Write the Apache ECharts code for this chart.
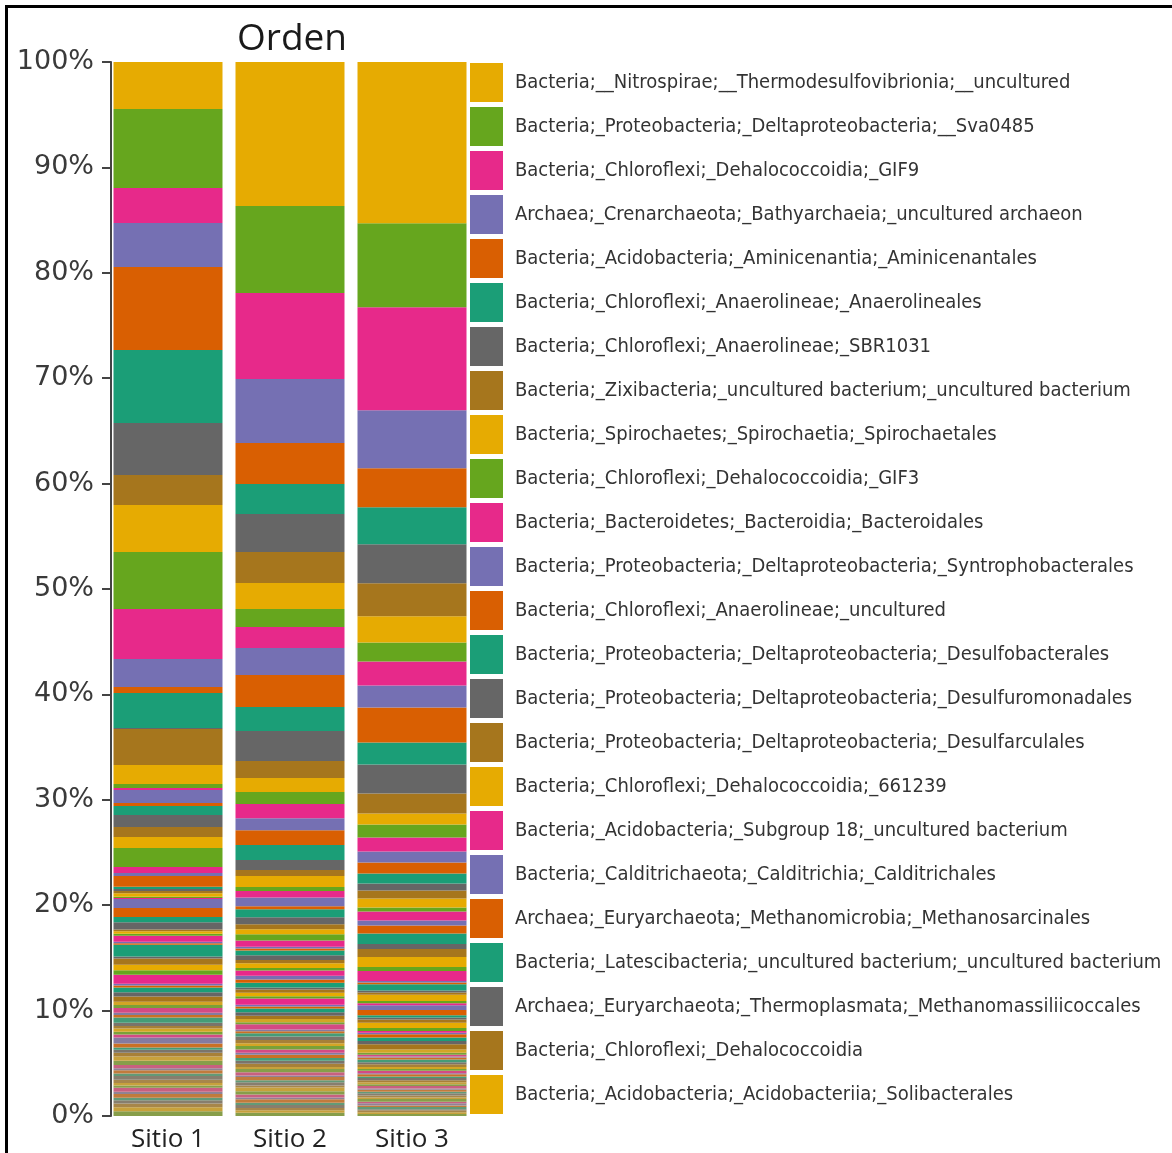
<!DOCTYPE html>
<html>
<head>
<meta charset="utf-8">
<title>Orden</title>
<script src="https://cdn.jsdelivr.net/npm/echarts@6/dist/echarts.min.js"></script>
<style>
  html, body { margin: 0; padding: 0; background: #fff; }
  #chart { width: 1172px; height: 1153px; }
</style>
</head>
<body>
<div id="chart"></div>
<script>
// sitios (eje x)
var sitios = ['Sitio 1', 'Sitio 2', 'Sitio 3'];

// ordenes que salen en la leyenda, de arriba a abajo
var leyenda = [
    'Bacteria;__Nitrospirae;__Thermodesulfovibrionia;__uncultured',
    'Bacteria;_Proteobacteria;_Deltaproteobacteria;__Sva0485',
    'Bacteria;_Chloroflexi;_Dehalococcoidia;_GIF9',
    'Archaea;_Crenarchaeota;_Bathyarchaeia;_uncultured archaeon',
    'Bacteria;_Acidobacteria;_Aminicenantia;_Aminicenantales',
    'Bacteria;_Chloroflexi;_Anaerolineae;_Anaerolineales',
    'Bacteria;_Chloroflexi;_Anaerolineae;_SBR1031',
    'Bacteria;_Zixibacteria;_uncultured bacterium;_uncultured bacterium',
    'Bacteria;_Spirochaetes;_Spirochaetia;_Spirochaetales',
    'Bacteria;_Chloroflexi;_Dehalococcoidia;_GIF3',
    'Bacteria;_Bacteroidetes;_Bacteroidia;_Bacteroidales',
    'Bacteria;_Proteobacteria;_Deltaproteobacteria;_Syntrophobacterales',
    'Bacteria;_Chloroflexi;_Anaerolineae;_uncultured',
    'Bacteria;_Proteobacteria;_Deltaproteobacteria;_Desulfobacterales',
    'Bacteria;_Proteobacteria;_Deltaproteobacteria;_Desulfuromonadales',
    'Bacteria;_Proteobacteria;_Deltaproteobacteria;_Desulfarculales',
    'Bacteria;_Chloroflexi;_Dehalococcoidia;_661239',
    'Bacteria;_Acidobacteria;_Subgroup 18;_uncultured bacterium',
    'Bacteria;_Calditrichaeota;_Calditrichia;_Calditrichales',
    'Archaea;_Euryarchaeota;_Methanomicrobia;_Methanosarcinales',
    'Bacteria;_Latescibacteria;_uncultured bacterium;_uncultured bacterium',
    'Archaea;_Euryarchaeota;_Thermoplasmata;_Methanomassiliicoccales',
    'Bacteria;_Chloroflexi;_Dehalococcoidia',
    'Bacteria;_Acidobacteria;_Acidobacteriia;_Solibacterales'
];

// abundancia relativa (%) por orden, de arriba (0) hacia abajo
var sitio1 = [
    4.46, 7.50, 3.32, 4.17, 7.87, 6.93, 4.93, 2.85, 4.46, 5.41,
    4.74, 2.66, 0.57, 3.32, 0.10, 3.42, 1.80, 0.38, 0.19, 1.23,
    0.28, 0.85, 1.14, 0.95, 1.04, 1.80, 0.57, 0.28, 1.04,
    0.2, 0.2, 0.2, 0.35, 0.1, 0.1, 0.85, 0.85, 0.5, 0.7,
    0.15, 0.25, 0.2, 0.55, 0.15, 0.15, 1.1, 0.2, 0.6, 0.5,
    0.45, 0.85, 0.15, 0.2, 0.45, 0.4, 0.5, 0.3,
    0.3, 0.45, 0.2, 0.25, 0.5, 0.3, 0.25, 0.3, 0.25, 0.3,
    0.55, 0.4, 0.2, 0.3, 0.35, 0.4, 0.4, 0.3, 0.2, 0.3,
    0.25, 0.35, 0.3, 0.25, 0.2, 0.4, 0.2, 0.35, 0.25, 0.3,
    0.35, 0.4, 0.44
];
var sitio2 = [
    13.66, 8.25, 8.16, 6.07, 3.89, 2.85, 3.61, 2.94, 2.47, 1.71,
    1.99, 2.56, 3.04, 2.28, 2.85, 1.61, 1.33, 1.14, 1.33, 1.14,
    1.42, 1.42, 0.95, 0.57, 1.04,
    0.38, 0.6, 0.85, 0.28, 0.76, 0.66, 0.47, 0.47, 0.6, 0.6,
    0.15, 0.2, 0.45, 0.45, 0.3, 0.45, 0.25, 0.5, 0.35, 0.3,
    0.45, 0.2, 0.3, 0.35, 0.2, 0.6, 0.15, 0.2, 0.35, 0.35,
    0.3, 0.3, 0.2, 0.5, 0.15, 0.2, 0.3, 0.35, 0.3, 0.25,
    0.35, 0.3, 0.2, 0.3, 0.25, 0.3, 0.3, 0.2, 0.3, 0.3,
    0.15, 0.3, 0.2, 0.3, 0.2, 0.35, 0.3, 0.3, 0.15, 0.35,
    0.2, 0.3, 0.2, 0.25, 0.3
];
var sitio3 = [
    15.28, 7.97, 9.77, 5.50, 3.70, 3.51, 3.70, 3.13, 2.47, 1.80,
    2.28, 2.09, 3.32, 2.09, 2.75, 1.90, 1.04, 1.23, 1.33, 1.04, 1.04,
    0.95, 0.66, 0.76, 0.85, 0.38, 0.85, 0.47, 0.76, 1.0, 0.47,
    0.76, 0.95, 0.38, 0.95, 0.15, 0.15, 0.6, 0.2, 0.2, 0.6,
    0.2, 0.2, 0.45, 0.5, 0.2, 0.2, 0.3, 0.5, 0.3, 0.15,
    0.15, 0.3, 0.35, 0.3, 0.5, 0.3,
    0.2, 0.15, 0.1, 0.2, 0.25, 0.2, 0.25, 0.2, 0.15, 0.25,
    0.1, 0.2, 0.15, 0.2, 0.2, 0.2, 0.15, 0.25, 0.1, 0.2,
    0.15, 0.2, 0.2, 0.15, 0.25, 0.15, 0.2, 0.15, 0.2, 0.1,
    0.2, 0.15, 0.2
];

// paleta Dark2, recorrida desde arriba
var colores = ['#e6ab02', '#66a61e', '#e7298a', '#7570b3', '#d95f02', '#1b9e77', '#666666', '#a6761d'];

window.onload = function () {
    initStack();
};

/* mezcla un color con un tono neutro (para los ordenes raros del fondo) */
var apagar = function (hex, f) {
    var base = [168, 150, 118];
    var out = '#';
    for (var c = 0; c < 3; c++) {
        var v = parseInt(hex.substr(1 + c * 2, 2), 16);
        v = Math.round(v * (1 - f) + base[c] * f);
        out += ('0' + v.toString(16)).slice(-2);
    }
    return out;
};

var initStack = function () {
    var dom = document.getElementById('chart');
    var myeCharts = echarts.init(dom);

    /* nombres: el orden 17 (verde) no aparece en la leyenda */
    var nombres = [];
    var j = 0;
    for (var k = 0; k < sitio1.length; k++) {
        if (k === 17) {
            nombres.push('Sin asignar');
        } else if (j < leyenda.length) {
            nombres.push(leyenda[j]);
            j++;
        } else {
            nombres.push('Otros ' + k);
        }
    }

    var tot = [0, 0, 0];
    sitio1.forEach(function (v, i) {
        tot[0] += v;
        tot[1] += sitio2[i];
        tot[2] += sitio3[i];
    });

    /* se apilan desde abajo: primero el ultimo orden */
    var series = [];
    for (var i = sitio1.length - 1; i >= 0; i--) {
        var col = colores[i % 8];
        if (i >= 72) {
            col = apagar(col, 0.5);
        } else if (i >= 56) {
            col = apagar(col, 0.3);
        }
        series.push({
            name: nombres[i],
            type: 'bar',
            stack: 'total',
            barWidth: 109,
            itemStyle: { color: col },
            data: [
                sitio1[i] / tot[0] * 100,
                sitio2[i] / tot[1] * 100,
                sitio3[i] / tot[2] * 100
            ]
        });
    }

    var option = {
        animation: false,
        backgroundColor: '#fff',
        title: {
            text: 'Orden',
            left: 287,
            textAlign: 'center',
            top: 16,
            textStyle: { fontFamily: 'Open Sans', fontWeight: 'normal', fontSize: 37, color: '#1a1a1a' }
        },
        legend: {
            orient: 'vertical',
            left: 470,
            top: 63,
            padding: 0,
            icon: 'rect',
            itemWidth: 33,
            itemHeight: 39,
            itemGap: 5,
            selectedMode: false,
            data: leyenda,
            textStyle: {
                fontFamily: 'DejaVu Sans Condensed',
                fontSize: 20,
                color: '#333',
                padding: [9, 0, 0, 7]
            }
        },
        grid: {
            left: 107,
            top: 62,
            width: 366,
            bottom: 37
        },
        xAxis: {
            type: 'category',
            data: sitios,
            axisLine: { show: false },
            axisTick: { show: false },
            axisLabel: { fontFamily: 'Open Sans', fontSize: 26, color: '#222', margin: 11 }
        },
        yAxis: {
            type: 'value',
            min: 0,
            max: 100,
            interval: 10,
            offset: -4,
            splitLine: { show: false },
            axisLine: { show: true, lineStyle: { color: '#444', width: 2 } },
            axisTick: { show: true, length: 9, lineStyle: { color: '#444', width: 2 } },
            axisLabel: {
                formatter: '{value}%',
                fontFamily: 'DejaVu Sans',
                fontSize: 27,
                color: '#3a3a3a',
                margin: 17
            }
        },
        graphic: [{
            type: 'rect',
            shape: { x: 6.5, y: 6.5, width: 1300, height: 1300 },
            style: { fill: 'none', stroke: '#000', lineWidth: 3 },
            silent: true
        }],
        series: series
    };
    myeCharts.setOption(option);
};
</script>
</body>
</html>
